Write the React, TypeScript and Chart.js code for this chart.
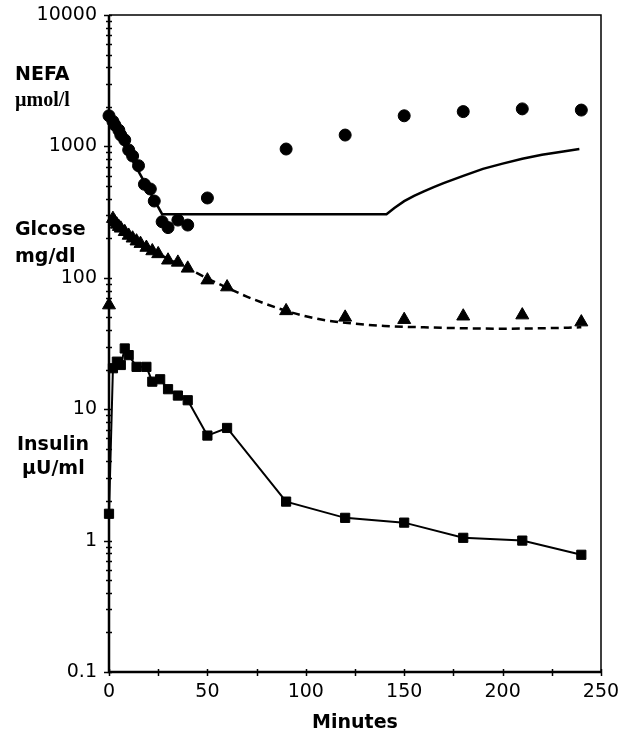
import React, { useEffect, useRef } from "react";
import { Chart, registerables } from "chart.js";
Chart.register(...registerables);

// ---- data (minutes / values) ----
const nefaMinutes = [0, 2, 3, 5, 6, 8, 10, 12, 15, 18, 21, 23, 27, 30, 35, 40, 50, 90, 120, 150, 180, 210, 240];
const nefaValues = [1710, 1550, 1455, 1330, 1220, 1120, 940, 845, 713, 515, 474, 384, 267, 241, 275, 252, 405, 955, 1220, 1710, 1840, 1930, 1890];

const nefaModelMinutes = [0, 27, 141, 145, 150, 155, 160, 165, 170, 180, 190, 200, 210, 220, 230, 239];
const nefaModelValues = [1650, 305, 305, 340, 383, 420, 455, 490, 525, 597, 675, 740, 805, 863, 912, 955];

const glucoseMinutes = [0, 2, 3, 4, 5, 6, 8, 10, 12, 14, 16, 19, 22, 25, 30, 35, 40, 50, 60, 90, 120, 150, 180, 210, 240];
const glucoseValues = [62, 282, 265, 255, 245, 238, 224, 210, 200, 190, 182, 170, 160, 152, 136, 131, 118, 96, 85, 56, 50, 48, 51, 52, 46];

const glucoseModelMinutes = [0, 10, 20, 30, 40, 50, 60, 70, 80, 90, 100, 110, 120, 140, 160, 180, 200, 220, 240];
const glucoseModelValues = [290, 212, 168, 140, 118, 99, 84, 72, 63, 56, 51, 47.5, 45.5, 43, 42, 41.3, 41, 41.3, 42];

const insulinMinutes = [0, 2, 4, 6, 8, 10, 14, 19, 22, 26, 30, 35, 40, 50, 60, 90, 120, 150, 180, 210, 240];
const insulinValues = [1.6, 20.5, 23, 21.7, 29, 25.8, 21, 21, 16.2, 16.9, 14.2, 12.7, 11.7, 6.3, 7.2, 1.98, 1.49, 1.37, 1.05, 1.0, 0.78];

const yTickValues = [0.1, 1, 10, 100, 1000, 10000];
const xTickStep = 50;
const xMinorStep = 25;

const SANS = "'DejaVu Sans', 'Liberation Sans', sans-serif";
const SERIF = "'Liberation Serif', 'DejaVu Serif', serif";

const labels = [
  { text: "NEFA", font: `bold 19px ${SANS}`, x: 15, y: 75 },
  { text: "µmol/l", font: `bold 20px ${SERIF}`, x: 15, y: 101 },
  { text: "Glcose", font: `bold 19px ${SANS}`, x: 15, y: 230 },
  { text: "mg/dl", font: `bold 19px ${SANS}`, x: 15, y: 257 },
  { text: "Insulin", font: `bold 19px ${SANS}`, x: 17, y: 445 },
  { text: "µU/ml", font: `bold 19px ${SANS}`, x: 22, y: 469 },
];

const toXY = (xs: number[], ys: number[]) => xs.map((x, i) => ({ x, y: ys[i] }));

export default function App() {
  const ref = useRef<HTMLCanvasElement>(null);

  useEffect(() => {
    const canvas = ref.current;
    if (!canvas) return;

    const decor = {
      id: "decor",
      beforeDatasetsDraw(chart: any) {
        const { ctx, chartArea: a, scales } = chart;
        const xs = scales.x;
        const ys = scales.y;
        ctx.save();
        ctx.strokeStyle = "#000";
        ctx.lineCap = "butt";
        ctx.lineWidth = 1.5;
        ctx.beginPath();
        ctx.moveTo(a.left, a.top);
        ctx.lineTo(a.right, a.top);
        ctx.lineTo(a.right, a.bottom);
        ctx.stroke();
        ctx.lineWidth = 2.5;
        ctx.beginPath();
        ctx.moveTo(a.left, a.top);
        ctx.lineTo(a.left, a.bottom);
        ctx.lineTo(a.right, a.bottom);
        ctx.stroke();
        ctx.lineWidth = 1.5;
        for (let e = -1; e <= 4; e++) {
          for (let m = 1; m <= 9; m++) {
            const v = m * Math.pow(10, e);
            if (v > 10000 + 1e-6) break;
            const py = Math.round(ys.getPixelForValue(v)) + 0.5;
            const major = m === 1;
            ctx.beginPath();
            ctx.moveTo(a.left - (major ? 5 : 3), py);
            ctx.lineTo(a.left + 3, py);
            ctx.stroke();
          }
        }
        for (let t = 0; t <= 250; t += xMinorStep) {
          const px = Math.round(xs.getPixelForValue(t)) + 0.5;
          ctx.beginPath();
          ctx.moveTo(px, a.bottom - 3);
          ctx.lineTo(px, a.bottom + 4);
          ctx.stroke();
        }
        ctx.fillStyle = "#000";
        ctx.textAlign = "left";
        ctx.textBaseline = "middle";
        for (const l of labels) {
          ctx.font = l.font;
          ctx.fillText(l.text, l.x, l.y);
        }
        ctx.restore();
      },
    };

    const chart = new Chart(canvas, {
      type: "line",
      data: {
        datasets: [
          {
            label: "NEFA",
            data: toXY(nefaMinutes, nefaValues),
            showLine: false,
            pointStyle: "circle",
            pointRadius: 6,
            pointBorderWidth: 1,
            pointBackgroundColor: "#000",
            pointBorderColor: "#000",
            borderColor: "#000",
            clip: false,
          } as any,
          {
            label: "NEFA model",
            data: toXY(nefaModelMinutes, nefaModelValues),
            borderColor: "#000",
            borderWidth: 2.5,
            pointRadius: 0,
            tension: 0,
            fill: false,
          },
          {
            label: "Glucose",
            data: toXY(glucoseMinutes, glucoseValues),
            showLine: false,
            pointStyle: "triangle",
            pointRadius: 7.5,
            pointBorderWidth: 1,
            pointBackgroundColor: "#000",
            pointBorderColor: "#000",
            borderColor: "#000",
            clip: false,
          } as any,
          {
            label: "Glucose model",
            data: toXY(glucoseModelMinutes, glucoseModelValues),
            borderColor: "#000",
            borderWidth: 2.5,
            borderDash: [8, 5],
            pointRadius: 0,
            cubicInterpolationMode: "monotone",
            fill: false,
          },
          {
            label: "Insulin",
            data: toXY(insulinMinutes, insulinValues),
            borderColor: "#000",
            borderWidth: 2,
            pointStyle: "rect",
            pointRadius: 6.5,
            pointBorderWidth: 1,
            pointBackgroundColor: "#000",
            pointBorderColor: "#000",
            tension: 0,
            clip: false,
          } as any,
        ],
      },
      options: {
        animation: false,
        responsive: false,
        maintainAspectRatio: false,
        devicePixelRatio: 1,
        layout: { padding: { top: 15, right: 27, left: 0, bottom: 0 } },
        plugins: {
          legend: { display: false },
          tooltip: { enabled: false },
        },
        scales: {
          x: {
            type: "linear",
            min: 0,
            max: 250,
            grid: { display: false, drawTicks: false },
            border: { display: false },
            ticks: {
              stepSize: xTickStep,
              color: "#000",
              font: { family: SANS, size: 19 },
              padding: 9,
              maxRotation: 0,
            },
            title: {
              display: true,
              text: "Minutes",
              color: "#000",
              font: { family: SANS, size: 19, weight: "bold" },
              padding: { top: 0, bottom: 4 },
            },
            afterFit: (s: any) => {
              s.height = 66;
              s.paddingLeft = 0;
              s.paddingRight = 0;
            },
          },
          y: {
            type: "logarithmic",
            min: 0.1,
            max: 10000,
            grid: { display: false, drawTicks: false },
            border: { display: false },
            afterBuildTicks: (s: any) => {
              s.ticks = yTickValues.map((v) => ({ value: v }));
            },
            ticks: {
              autoSkip: false,
              color: "#000",
              font: { family: SANS, size: 19 },
              padding: 12,
              callback: (v: any) => String(v),
            },
            afterFit: (s: any) => {
              s.width = 109;
              s.paddingTop = 0;
              s.paddingBottom = 0;
            },
          },
        },
      } as any,
      plugins: [decor],
    });

    return () => chart.destroy();
  }, []);

  return (
    <div style={{ position: "absolute", left: 0, top: 0, width: 628, height: 738, background: "#fff" }}>
      <canvas ref={ref} width={628} height={738} style={{ width: 628, height: 738, display: "block" }} />
    </div>
  );
}
